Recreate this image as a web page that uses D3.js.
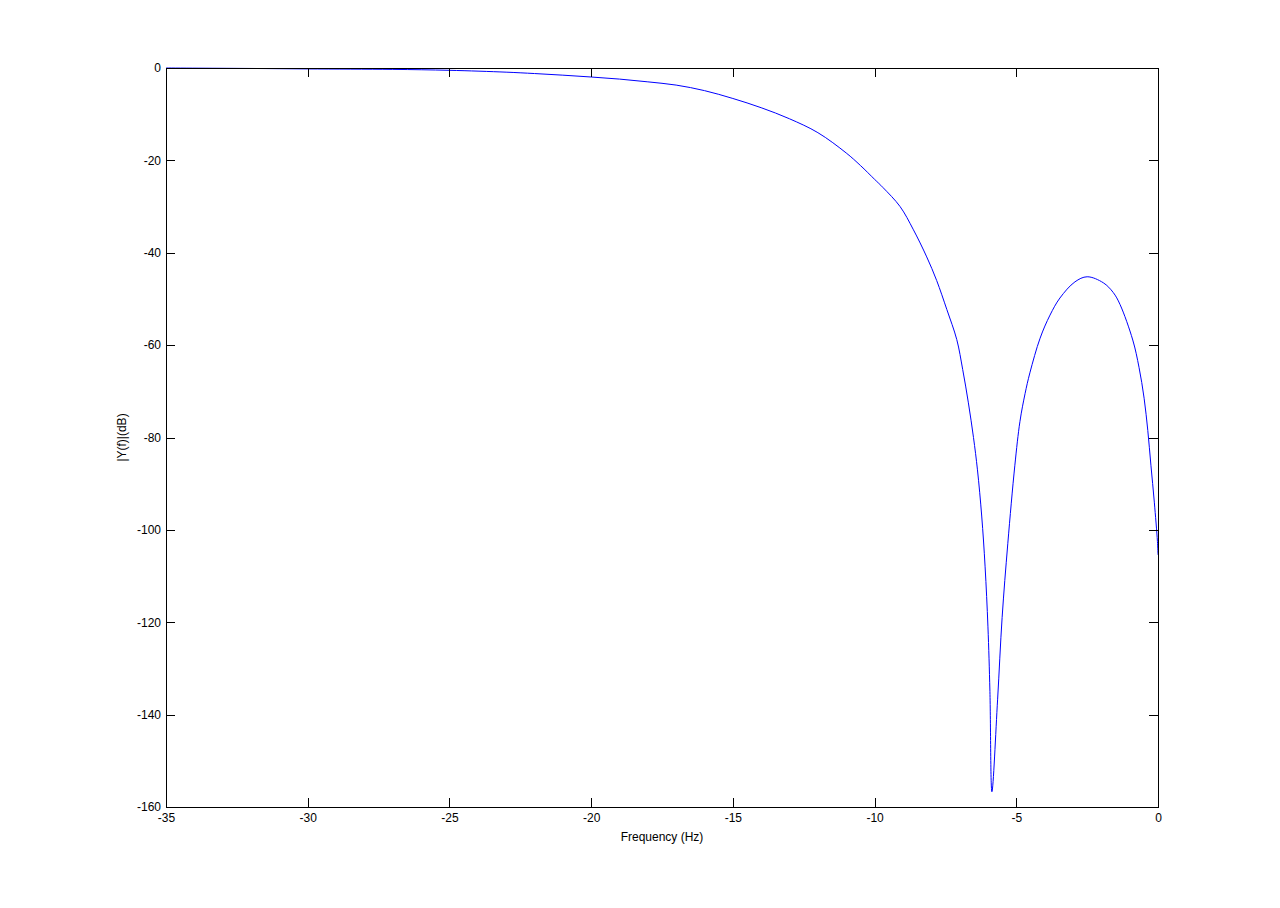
<!DOCTYPE html>
<html>
<head>
<meta charset="utf-8">
<script src="https://d3js.org/d3.v7.min.js"></script>
<style>
  body { margin: 0; background: #fff; }
  text { font-family: "Liberation Sans", Arial, sans-serif; font-size: 12px; fill: #000; }
</style>
</head>
<body>
<svg width="1280" height="908"></svg>
<script>
var svg = d3.select("svg"),
    width = +svg.attr("width"),
    height = +svg.attr("height");

// frequency samples (Hz) and magnitude (dB)
var freq = [-35, -32, -30, -27, -25, -23, -22, -21, -20, -19, -18, -17, -16, -15, -14, -13, -12, -11, -10.5, -10,
    -9.7, -9.1, -8.64, -8.16, -7.81, -7.45, -7.1, -6.89, -6.69, -6.51, -6.37, -6.22, -6.1, -6.0, -5.93, -5.86,
    -5.66, -5.5, -5.3, -5.05, -4.87, -4.69, -4.52, -4.16, -3.81, -3.46, -2.93, -2.5, -1.93, -1.58,
    -1.34, -0.89, -0.67, -0.49, -0.36, -0.25, -0.13, -0.02, 0];
var mag = [0, -0.1, -0.2, -0.3, -0.5, -0.9, -1.2, -1.55, -1.95, -2.4, -3.0, -3.7, -4.9, -6.6, -8.6, -11.0, -14.0, -18.4, -21.1, -24.1,
    -25.9, -30.0, -34.9, -40.9, -46.0, -52.3, -58.8, -65.3, -72.5, -80.0, -87.0, -97.0, -108, -121, -135, -156.7,
    -136.8, -119, -103, -86, -76.5, -70.5, -66.0, -58.5, -53.5, -49.8, -46.3, -45.2, -46.5, -48.6,
    -51.2, -58.9, -64.8, -71.5, -78.5, -86.0, -94.0, -102.5, -105.4];

var xTicks = [-35, -30, -25, -20, -15, -10, -5, 0];
var yTicks = [0, -20, -40, -60, -80, -100, -120, -140, -160];

var mLeft = 166, mRight = 1158, mTop = 68, mBottom = 807;

var x = d3.scaleLinear().domain([-35, 0]).range([mLeft, mRight]);
var y = d3.scaleLinear().domain([-160, 0]).range([mBottom, mTop]);

var fmt = function(d) { return String(d); };

// curve
var line = d3.line()
    .x(function(d, i) { return x(freq[i]); })
    .y(function(d, i) { return y(mag[i]); })
    .curve(d3.curveCatmullRom.alpha(0.5));

svg.append("path")
    .datum(mag)
    .attr("d", line)
    .attr("fill", "none")
    .attr("stroke", "#0000ff")
    .attr("stroke-width", 1);

// axes with inward ticks, MATLAB style box
svg.append("g")
    .attr("transform", "translate(0," + mBottom + ")")
    .call(d3.axisBottom(x).tickValues(xTicks).tickSizeInner(-9).tickSizeOuter(0).tickPadding(6)
        .tickFormat(fmt))
    .call(function(g) { g.select(".domain").remove(); });

svg.append("g")
    .attr("transform", "translate(0," + mTop + ")")
    .call(d3.axisTop(x).tickValues(xTicks).tickSizeInner(-9).tickSizeOuter(0).tickFormat(""))
    .call(function(g) { g.select(".domain").remove(); });

svg.append("g")
    .attr("transform", "translate(" + mLeft + ",0)")
    .call(d3.axisLeft(y).tickValues(yTicks).tickSizeInner(-9).tickSizeOuter(0).tickPadding(5)
        .tickFormat(fmt))
    .call(function(g) { g.select(".domain").remove(); });

svg.append("g")
    .attr("transform", "translate(" + mRight + ",0)")
    .call(d3.axisRight(y).tickValues(yTicks).tickSizeInner(-9).tickSizeOuter(0).tickFormat(""))
    .call(function(g) { g.select(".domain").remove(); });

svg.selectAll(".tick line").attr("stroke", "#000").attr("shape-rendering", "crispEdges");
svg.selectAll(".tick text").style("font-family", "'Liberation Sans', Arial, sans-serif").style("font-size", "12px").attr("fill", "#000");

svg.append("rect")
    .attr("x", mLeft)
    .attr("y", mTop)
    .attr("width", mRight - mLeft)
    .attr("height", mBottom - mTop)
    .attr("fill", "none")
    .attr("stroke", "#000")
    .attr("shape-rendering", "crispEdges");

// labels
svg.append("text")
    .attr("x", (mLeft + mRight) / 2)
    .attr("y", 841)
    .attr("text-anchor", "middle")
    .text("Frequency (Hz)");

svg.append("text")
    .attr("transform", "translate(126," + (mTop + mBottom) / 2 + ") rotate(-90)")
    .attr("text-anchor", "middle")
    .text("|Y(f)|(dB)");
</script>
</body>
</html>
